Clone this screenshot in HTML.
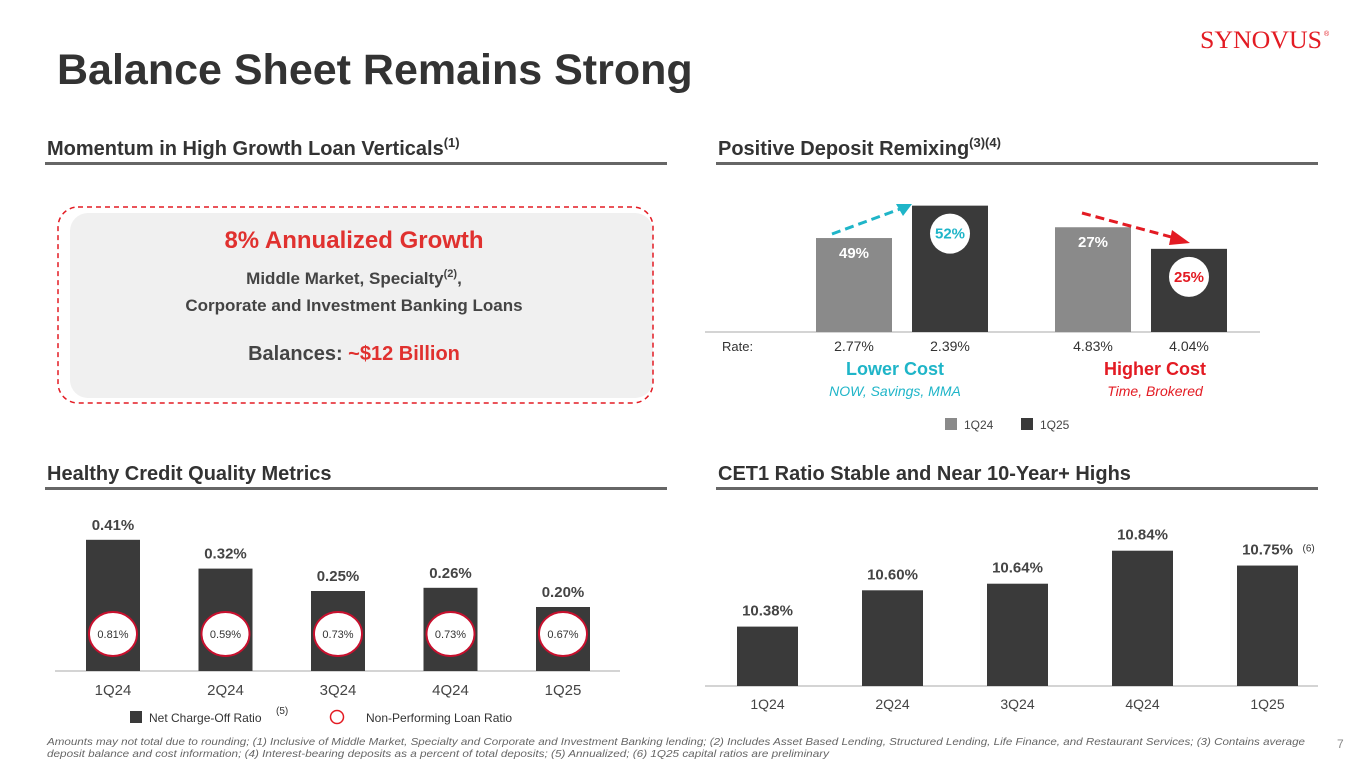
<!DOCTYPE html>
<html><head><meta charset="utf-8">
<style>
body{margin:0;width:1365px;height:768px;background:#fff;overflow:hidden;font-family:"Liberation Sans",sans-serif;}
svg text{font-family:"Liberation Sans",sans-serif;}
svg text.serif{font-family:"Liberation Serif",serif;}
</style></head>
<body>
<svg id="s" width="1365" height="768" xmlns="http://www.w3.org/2000/svg">
<rect width="1365" height="768" fill="#fff"/>
<text x="57" y="84" font-size="43" font-weight="bold" fill="#333">Balance Sheet Remains Strong</text>
<text class="serif" x="1200" y="48" font-size="25" fill="#e31b23" textLength="122" lengthAdjust="spacingAndGlyphs">SYNOVUS</text>
<text x="1324" y="36" font-size="7" fill="#e31b23">®</text>

<g>
<text x="47" y="155" font-size="20" font-weight="bold" fill="#333">Momentum in High Growth Loan Verticals<tspan font-size="13" dy="-8">(1)</tspan></text>
<rect x="45" y="162" width="622" height="3" fill="#666"/>
<text x="718" y="155" font-size="20" font-weight="bold" fill="#333">Positive Deposit Remixing<tspan font-size="13" dy="-8">(3)(4)</tspan></text>
<rect x="716" y="162" width="602" height="3" fill="#666"/>
<text x="47" y="480" font-size="20" font-weight="bold" fill="#333">Healthy Credit Quality Metrics</text>
<rect x="45" y="487" width="622" height="3" fill="#666"/>
<text x="718" y="480" font-size="20" font-weight="bold" fill="#333">CET1 Ratio Stable and Near 10-Year+ Highs</text>
<rect x="716" y="487" width="602" height="3" fill="#666"/>
</g>

<g>
<rect x="70" y="213" width="583" height="185" rx="18" fill="#f0f0f0"/>
<rect x="58" y="207" width="595" height="196" rx="20" fill="none" stroke="#e31b23" stroke-width="1.5" stroke-dasharray="5,4"/>
<text x="354" y="248" text-anchor="middle" font-size="24" font-weight="bold" fill="#e0312f">8% Annualized Growth</text>
<text x="354" y="284" text-anchor="middle" font-size="17" font-weight="bold" fill="#444">Middle Market, Specialty<tspan font-size="11" dy="-7">(2)</tspan><tspan dy="7">,</tspan></text>
<text x="354" y="311" text-anchor="middle" font-size="17" font-weight="bold" fill="#444">Corporate and Investment Banking Loans</text>
<text x="354" y="360" text-anchor="middle" font-size="20" font-weight="bold" fill="#444">Balances: <tspan fill="#e0312f">~$12 Billion</tspan></text>
</g>

<g id="dep"></g>
<g id="cred"></g>
<g id="cet"></g>

<text x="47" y="745" font-size="10.5" font-style="italic" fill="#666" textLength="1258" lengthAdjust="spacingAndGlyphs">Amounts may not total due to rounding; (1) Inclusive of Middle Market, Specialty and Corporate and Investment Banking lending; (2) Includes Asset Based Lending, Structured Lending, Life Finance, and Restaurant Services; (3) Contains average</text>
<text x="47" y="757" font-size="10.5" font-style="italic" fill="#666" textLength="782" lengthAdjust="spacingAndGlyphs">deposit balance and cost information; (4) Interest-bearing deposits as a percent of total deposits; (5) Annualized; (6) 1Q25 capital ratios are preliminary</text>
<text x="1337" y="748" font-size="12" fill="#888">7</text>
</svg>
<script>
const NS="http://www.w3.org/2000/svg";
function mk(p,t,a,txt){const e=document.createElementNS(NS,t);for(const k in a)e.setAttribute(k,a[k]);if(txt!==undefined)e.textContent=txt;p.appendChild(e);return e;}

// Deposit chart data
const depCats=["1Q24 Lower","1Q25 Lower","1Q24 Higher","1Q25 Higher"];
const depVals=[49,52,27,25];
const depRates=["2.77%","2.39%","4.83%","4.04%"];
const depGroupMin=[49,49,26,26];
// Credit chart data
const credCats=["1Q24","2Q24","3Q24","4Q24","1Q25"];
const ncoVals=[0.41,0.32,0.25,0.26,0.20];
const npaVals=[0.81,0.59,0.73,0.73,0.67];
// CET1 data
const cetCats=["1Q24","2Q24","3Q24","4Q24","1Q25"];
const cetVals=[10.38,10.60,10.64,10.84,10.75];

// Deposit
(function(){
 const g=document.getElementById('dep');
 const base=332, xs=[816,912,1055,1151], w=76;
 const y=(v,i)=>base-(v-depGroupMin[i]+8.7)*10.8;
 mk(g,'line',{x1:705,x2:1260,y1:base,y2:base,stroke:'#aaa','stroke-width':1});
 const cols=['#8a8a8a','#3a3a3a','#8a8a8a','#3a3a3a'];
 depVals.forEach((v,i)=>{
  const r=mk(g,'rect',{x:xs[i],y:y(v,i),width:w,height:base-y(v,i),fill:cols[i]});
  
  
  const cx=xs[i]+w/2;
  if(i%2===0){mk(g,'text',{x:cx,y:y(v,i)+20,'text-anchor':'middle','font-size':15,'font-weight':'bold',fill:'#fff'},v+'%');}
  else{const cy=y(v,i)+28;mk(g,'circle',{cx:cx,cy:cy,r:20,fill:'#fff'});
   mk(g,'text',{x:cx,y:cy+5,'text-anchor':'middle','font-size':15,'font-weight':'bold',fill:i===1?'#1fb5c8':'#e31b23'},v+'%');}
  mk(g,'text',{x:cx,y:351,'text-anchor':'middle','font-size':14,fill:'#333'},depRates[i]);
 });
 mk(g,'text',{x:722,y:351,'font-size':13,fill:'#333'},'Rate:');
 mk(g,'line',{x1:832,y1:234,x2:900,y2:209,stroke:'#1fb5c8','stroke-width':3,'stroke-dasharray':'9,5'});
 mk(g,'polygon',{points:'912,204 896,204 903,216',fill:'#1fb5c8'});
 mk(g,'line',{x1:1082,y1:213,x2:1175,y2:238,stroke:'#e31b23','stroke-width':3,'stroke-dasharray':'9,5'});
 mk(g,'polygon',{points:'1190,243 1172,230 1169,245',fill:'#e31b23'});
 mk(g,'text',{x:895,y:375,'text-anchor':'middle','font-size':18,'font-weight':'bold',fill:'#1fb5c8'},'Lower Cost');
 mk(g,'text',{x:895,y:396,'text-anchor':'middle','font-size':14,'font-style':'italic',fill:'#1fb5c8'},'NOW, Savings, MMA');
 mk(g,'text',{x:1155,y:375,'text-anchor':'middle','font-size':18,'font-weight':'bold',fill:'#e31b23'},'Higher Cost');
 mk(g,'text',{x:1155,y:396,'text-anchor':'middle','font-size':14,'font-style':'italic',fill:'#e31b23'},'Time, Brokered');
 mk(g,'rect',{x:945,y:418,width:12,height:12,fill:'#8a8a8a'});
 mk(g,'text',{x:964,y:429,'font-size':12,fill:'#444'},'1Q24');
 mk(g,'rect',{x:1021,y:418,width:12,height:12,fill:'#3a3a3a'});
 mk(g,'text',{x:1040,y:429,'font-size':12,fill:'#444'},'1Q25');
})();

// Credit
(function(){
 const g=document.getElementById('cred');
 const base=671,k=320,w=54,x0=86,step=112.5;
 mk(g,'line',{x1:55,x2:620,y1:base,y2:base,stroke:'#aaa','stroke-width':1});
 credCats.forEach((c,i)=>{
  const x=x0+i*step,h=ncoVals[i]*k,cx=x+w/2;
  const r=mk(g,'rect',{x:x,y:base-h,width:w,height:h,fill:'#3a3a3a'});
  
  
  mk(g,'text',{x:cx,y:base-h-10,'text-anchor':'middle','font-size':15,'font-weight':'bold',fill:'#444'},ncoVals[i].toFixed(2)+'%');
  const e=mk(g,'ellipse',{cx:cx,cy:634,rx:24,ry:22,fill:'#fff',stroke:'#c8102e','stroke-width':2});
  
  
  mk(g,'text',{x:cx,y:638,'text-anchor':'middle','font-size':11,fill:'#333'},npaVals[i].toFixed(2)+'%');
  mk(g,'text',{x:cx,y:695,'text-anchor':'middle','font-size':15,fill:'#444'},c);
 });
 mk(g,'rect',{x:130,y:711,width:12,height:12,fill:'#3a3a3a'});
 mk(g,'text',{x:149,y:722,'font-size':12,fill:'#333'},'Net Charge-Off Ratio');
 mk(g,'text',{x:276,y:714,'font-size':10,fill:'#333'},'(5)');
 mk(g,'circle',{cx:337,cy:717,r:6.5,fill:'#fff',stroke:'#e31b23','stroke-width':1.5});
 mk(g,'text',{x:366,y:722,'font-size':12,fill:'#333'},'Non-Performing Loan Ratio');
})();

// CET1
(function(){
 const g=document.getElementById('cet');
 const base=686,k=165,min=10.02,w=61,x0=737,step=125;
 mk(g,'line',{x1:705,x2:1318,y1:base,y2:base,stroke:'#aaa','stroke-width':1});
 cetCats.forEach((c,i)=>{
  const x=x0+i*step,h=(cetVals[i]-min)*k,cx=x+w/2;
  const r=mk(g,'rect',{x:x,y:base-h,width:w,height:h,fill:'#3a3a3a'});
  
  
  mk(g,'text',{x:cx,y:base-h-11,'text-anchor':'middle','font-size':15,'font-weight':'bold',fill:'#444'},cetVals[i].toFixed(2)+'%');
  if(i===4)mk(g,'text',{x:cx+35,y:base-h-14,'font-size':10,fill:'#333'},'(6)');
  mk(g,'text',{x:cx,y:709,'text-anchor':'middle','font-size':14,fill:'#444'},c);
 });
})();
</script>
</body></html>
